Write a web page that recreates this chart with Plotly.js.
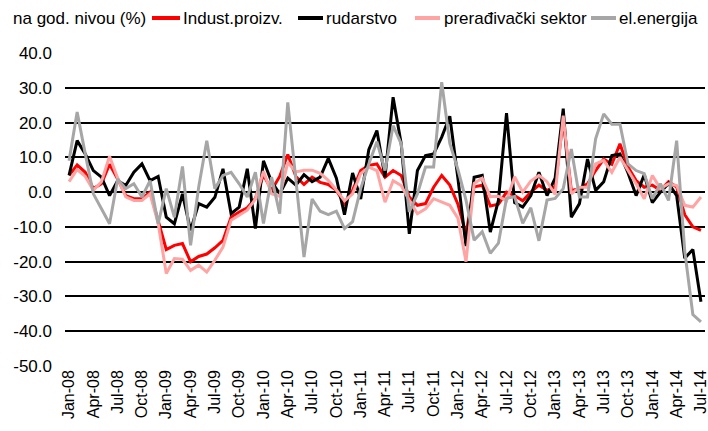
<!DOCTYPE html>
<html>
<head>
<meta charset="utf-8">
<script src="https://cdn.plot.ly/plotly-3.0.1.min.js"></script>
<style>html,body{margin:0;padding:0;background:#fff;}#chart{width:708px;height:431px;}</style>
</head>
<body>
<div id="chart"></div>
<script>
const months = [
"Jan-08","Feb-08","Mar-08","Apr-08","May-08","Jun-08","Jul-08","Aug-08","Sep-08","Oct-08","Nov-08","Dec-08",
"Jan-09","Feb-09","Mar-09","Apr-09","May-09","Jun-09","Jul-09","Aug-09","Sep-09","Oct-09","Nov-09","Dec-09",
"Jan-10","Feb-10","Mar-10","Apr-10","May-10","Jun-10","Jul-10","Aug-10","Sep-10","Oct-10","Nov-10","Dec-10",
"Jan-11","Feb-11","Mar-11","Apr-11","May-11","Jun-11","Jul-11","Aug-11","Sep-11","Oct-11","Nov-11","Dec-11",
"Jan-12","Feb-12","Mar-12","Apr-12","May-12","Jun-12","Jul-12","Aug-12","Sep-12","Oct-12","Nov-12","Dec-12",
"Jan-13","Feb-13","Mar-13","Apr-13","May-13","Jun-13","Jul-13","Aug-13","Sep-13","Oct-13","Nov-13","Dec-13",
"Jan-14","Feb-14","Mar-14","Apr-14","May-14","Jun-14","Jul-14"];

const tickLabels = ["Jan-08","Apr-08","Jul-08","Oct-08","Jan-09","Apr-09","Jul-09","Oct-09","Jan-10","Apr-10","Jul-10","Oct-10",
"Jan-11","Apr-11","Jul-11","Oct-11","Jan-12","Apr-12","Jul-12","Oct-12","Jan-13","Apr-13","Jul-13","Oct-13","Jan-14","Apr-14","Jul-14"];

const yTickVals = [40, 30, 20, 10, 0, -10, -20, -30, -40, -50];
const yTickText = ["40.0","30.0","20.0","10.0","0.0","-10.0","-20.0","-30.0","-40.0","-50.0"];

const seriesNames = ["Indust.proizv.","rudarstvo","prerađivački sektor","el.energija"];

const industProizv = [
4.8,7.8,5.7,1,2.4,8,3.8,-1,-1.9,-1.9,0,-8,
-16.5,-15.3,-14.8,-20,-18.5,-17.8,-16,-13.9,-7.2,-5.7,-4.5,-1.8,
5,0.5,4.5,10.8,4.5,2.2,4.3,2.8,2.2,0.5,-3.3,0.5,
6.2,7.7,8.1,4.3,6.2,4.8,-1.4,-3.8,-3.3,1.4,4.8,2,
-3.5,-12,1.5,2,-4,-3.5,0,-1,-2.5,0,2,0.5,
1.5,21,0.5,1,2.4,6.2,9.5,8,13.9,7.2,3.3,1.4,
2,0.5,3,1.5,-6.5,-10,-11];

const rudarstvo = [
4.8,14.8,11,6.2,4.3,-1,3.3,1.9,5.7,8.1,3.3,4.5,
-7.2,-9.1,-0.5,-11,-3.3,-4.3,-1.5,6.7,-6.2,-4.3,6.7,-10.5,
9,3,-0.5,4,2,5,3,4.3,9.7,4,-6.5,5.5,
-2,12.2,17.7,4.3,27.3,13.9,-12,6.2,10.5,11,15.8,21.8,
4,-15.5,4.3,4.8,-11.5,-2.4,22.7,-3,-4.3,-1,5.7,-1,
4,24,-7.2,-3.3,9.5,0.5,3,10.5,11,5.5,-1,5,
-3,0,2.5,-1,-19,-16.5,-31.5];

const preradjivacki = [
3,6.5,4.5,0.5,3,10.3,4,-1.4,-2.4,-2.4,-0.5,-9,
-23.4,-19.1,-19.3,-22.5,-21,-23,-19.6,-15.8,-8.1,-6.7,-5.2,-2,
6,-0.5,-1.2,8.5,5.8,6.3,6.3,5.4,3.4,0.6,-2.5,-0.5,
5.3,7.2,6.2,-2.9,3.3,1.9,-2.4,-6.2,-4.8,-1.9,-2.9,-3.8,
-7.5,-20,2.5,4,-1.3,-1.2,-2.5,4.4,0,3.2,4.8,3,
-0.7,22,-0.5,1.4,1.4,8.1,9.1,5.7,10,6.2,2.4,-1.9,
4.8,1,2.4,1.9,-3.8,-4.3,-1.4];

const elEnergija = [
9,23,11,-0.5,-4.8,-9.1,3.8,1,2.4,-1.4,3.3,-9.1,
1,-7.2,7.4,-15.3,1.4,14.8,1,4.8,5.7,2.4,-1.4,5.7,
-9,4.3,-6.2,25.8,3.5,-18.7,-2,-5.5,-6.5,-5.5,-10.5,-8.5,
1,8.1,14.5,6.2,19.1,13.9,-5.7,-0.5,7.2,7.2,31.6,14,
6.5,-2.3,-13.8,-11.4,-17.6,-14.7,-1.8,-1.3,-9,-4.5,-14,-2.3,
-1.8,1,12.4,-1.4,-1.4,15.3,22.5,19.5,19.6,8.1,6.2,5.3,
-1.9,2.4,-2.4,14.8,-17,-35.2,-37.3];

const colors = ["#ff0000","#000000","#ffa3a3","#a6a6a6"];
const allSeries = [industProizv, rudarstvo, preradjivacki, elEnergija];

const FONT = "Liberation Sans, Arial, sans-serif";

const traces = allSeries.map((vals, k) => ({
  type: "scatter", mode: "lines", x: months, y: vals, name: seriesNames[k],
  line: {color: colors[k], width: 3}, hoverinfo: "skip"
}));

// manual legend geometry (pixels)
const W = 708, H = 431, ml = 65, mr = 3, mt = 53, mb = 65;
const pw = W - ml - mr, ph = H - mt - mb;
const px = x => (x - ml) / pw;
const py = y => (H - mb - y) / ph;
const legY = 18;
const legItems = [
  {x0: 152, x1: 180, tx: 181},
  {x0: 298, x1: 323, tx: 324},
  {x0: 415, x1: 440, tx: 442},
  {x0: 591, x1: 616, tx: 617}
];
const shapes = legItems.map((it, k) => ({
  type: "line", xref: "paper", yref: "paper",
  x0: px(it.x0), x1: px(it.x1), y0: py(legY), y1: py(legY),
  line: {color: colors[k], width: 4}
}));
const annotations = [{
  xref: "paper", yref: "paper", x: px(11), y: py(legY), xanchor: "left", yanchor: "middle",
  text: "na god. nivou (%)", showarrow: false, font: {family: FONT, size: 17, color: "#000"}
}].concat(legItems.map((it, k) => ({
  xref: "paper", yref: "paper", x: px(it.tx), y: py(legY), xanchor: "left", yanchor: "middle",
  text: seriesNames[k], showarrow: false, font: {family: FONT, size: 17, color: "#000"}
})));

const layout = {
  width: W, height: H,
  margin: {l: ml, r: mr, t: mt, b: mb, pad: 0},
  paper_bgcolor: "#fff", plot_bgcolor: "#fff",
  showlegend: false,
  font: {family: FONT, size: 17, color: "#000"},
  xaxis: {
    type: "category", range: [-0.5, months.length - 0.5],
    tickmode: "array", tickvals: tickLabels, ticktext: tickLabels,
    tickangle: -90, showgrid: false, showline: false, zeroline: false, ticks: "",
    tickfont: {family: FONT, size: 16, color: "#000"}, fixedrange: true
  },
  yaxis: {
    range: [-50, 40], tickmode: "array", tickvals: yTickVals, ticktext: yTickText,
    showgrid: true, gridcolor: "#000", gridwidth: 2,
    zeroline: false, showline: false, ticks: "", ticklabelstandoff: 12,
    tickfont: {family: FONT, size: 17, color: "#000"}, fixedrange: true
  },
  shapes: shapes,
  annotations: annotations
};

Plotly.newPlot("chart", traces, layout, {displayModeBar: false, staticPlot: true});
</script>
</body>
</html>
